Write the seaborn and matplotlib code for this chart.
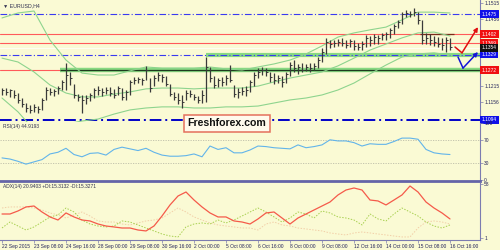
import numpy as np
import pandas as pd
import matplotlib
matplotlib.use("Agg")
import matplotlib.pyplot as plt
import matplotlib.transforms as mtransforms
from matplotlib.patches import FancyBboxPatch
import seaborn as sns

# ---------------- data ----------------
symbol_title = "EURUSD,H4"
rsi_title = "RSI(14) 44.9193"
adx_title = "ADX(14) 20.9403 +DI:15.3132 -DI:15.3271"
watermark = "Freshforex.com"

date_labels = ["22 Sep 2015", "23 Sep 08:00", "24 Sep 16:00", "28 Sep 00:00", "29 Sep 08:00",
               "30 Sep 16:00", "2 Oct 00:00", "5 Oct 08:00", "6 Oct 16:00", "8 Oct 00:00",
               "9 Oct 08:00", "12 Oct 16:00", "14 Oct 00:00", "15 Oct 08:00", "16 Oct 16:00"]

highs = [1.1208, 1.1208, 1.1205, 1.1201, 1.1190, 1.1172, 1.1154, 1.1147, 1.1150, 1.1143,
         1.1172, 1.1212, 1.1208, 1.1205, 1.1215, 1.1237, 1.1298, 1.1266, 1.1223, 1.1186,
         1.1183, 1.1183, 1.1190, 1.1208, 1.1215, 1.1208, 1.1212, 1.1212, 1.1205, 1.1215,
         1.1208, 1.1201, 1.1237, 1.1248, 1.1248, 1.1244, 1.1288, 1.1244, 1.1255, 1.1266,
         1.1259, 1.1251, 1.1223, 1.1194, 1.1190, 1.1183, 1.1201, 1.1201, 1.1186, 1.1179,
         1.1201, 1.1320, 1.1284, 1.1251, 1.1244, 1.1248, 1.1255, 1.1291, 1.1219, 1.1208,
         1.1212, 1.1215, 1.1237, 1.1266, 1.1280, 1.1284, 1.1280, 1.1266, 1.1262, 1.1255,
         1.1251, 1.1266, 1.1302, 1.1309, 1.1295, 1.1298, 1.1295, 1.1298, 1.1298, 1.1320,
         1.1353, 1.1389, 1.1381, 1.1381, 1.1385, 1.1389, 1.1381, 1.1385, 1.1381, 1.1371,
         1.1378, 1.1399, 1.1396, 1.1403, 1.1399, 1.1407, 1.1410, 1.1425, 1.1439, 1.1454,
         1.1482, 1.1490, 1.1486, 1.1497, 1.1482, 1.1454, 1.1407, 1.1403, 1.1396, 1.1392,
         1.1389, 1.1392, 1.1389]
lows = [1.1183, 1.1183, 1.1176, 1.1172, 1.1154, 1.1140, 1.1122, 1.1118, 1.1122, 1.1118,
        1.1129, 1.1165, 1.1183, 1.1179, 1.1186, 1.1201, 1.1201, 1.1219, 1.1172, 1.1161,
        1.1118, 1.1150, 1.1161, 1.1172, 1.1183, 1.1179, 1.1186, 1.1179, 1.1172, 1.1183,
        1.1165, 1.1165, 1.1183, 1.1223, 1.1226, 1.1219, 1.1237, 1.1194, 1.1215, 1.1233,
        1.1230, 1.1215, 1.1179, 1.1165, 1.1150, 1.1136, 1.1165, 1.1176, 1.1165, 1.1154,
        1.1154, 1.1158, 1.1230, 1.1208, 1.1212, 1.1215, 1.1219, 1.1230, 1.1176, 1.1172,
        1.1183, 1.1179, 1.1194, 1.1215, 1.1244, 1.1255, 1.1251, 1.1230, 1.1223, 1.1226,
        1.1212, 1.1226, 1.1251, 1.1266, 1.1259, 1.1266, 1.1270, 1.1266, 1.1273, 1.1280,
        1.1302, 1.1331, 1.1353, 1.1356, 1.1360, 1.1360, 1.1353, 1.1356, 1.1345, 1.1345,
        1.1345, 1.1356, 1.1360, 1.1367, 1.1367, 1.1381, 1.1381, 1.1389, 1.1403, 1.1425,
        1.1439, 1.1464, 1.1464, 1.1468, 1.1439, 1.1367, 1.1367, 1.1363, 1.1360, 1.1356,
        1.1345, 1.1338, 1.1345]
closes = [1.1201, 1.1194, 1.1201, 1.1183, 1.1165, 1.1150, 1.1136, 1.1129, 1.1140, 1.1132,
          1.1165, 1.1201, 1.1194, 1.1197, 1.1208, 1.1230, 1.1255, 1.1244, 1.1183, 1.1176,
          1.1165, 1.1172, 1.1183, 1.1201, 1.1201, 1.1194, 1.1201, 1.1190, 1.1183, 1.1208,
          1.1176, 1.1194, 1.1230, 1.1237, 1.1241, 1.1237, 1.1273, 1.1208, 1.1244, 1.1255,
          1.1248, 1.1223, 1.1186, 1.1176, 1.1165, 1.1158, 1.1190, 1.1186, 1.1176, 1.1165,
          1.1183, 1.1284, 1.1244, 1.1219, 1.1237, 1.1230, 1.1244, 1.1237, 1.1186, 1.1194,
          1.1197, 1.1201, 1.1230, 1.1255, 1.1266, 1.1273, 1.1266, 1.1248, 1.1237, 1.1244,
          1.1230, 1.1259, 1.1291, 1.1280, 1.1284, 1.1273, 1.1284, 1.1280, 1.1288, 1.1309,
          1.1338, 1.1374, 1.1367, 1.1371, 1.1374, 1.1371, 1.1363, 1.1378, 1.1360, 1.1356,
          1.1367, 1.1389, 1.1381, 1.1392, 1.1389, 1.1399, 1.1403, 1.1418, 1.1432, 1.1446,
          1.1475, 1.1479, 1.1475, 1.1482, 1.1454, 1.1381, 1.1389, 1.1381, 1.1374, 1.1367,
          1.1363, 1.1381, 1.1356]

# Bollinger bands (one reading every 4 bars)
bb_upper = [1.1461, 1.1479, 1.1486, 1.1381, 1.1309, 1.1262, 1.1255, 1.1255, 1.1270, 1.1284,
            1.1280, 1.1280, 1.1280, 1.1284, 1.1277, 1.1273, 1.1284, 1.1295, 1.1309, 1.1331,
            1.1360, 1.1392, 1.1407, 1.1418, 1.1428, 1.1454, 1.1482, 1.1482, 1.1479]
bb_middle = [1.1316, 1.1302, 1.1266, 1.1219, 1.1190, 1.1176, 1.1176, 1.1186, 1.1194, 1.1205,
             1.1208, 1.1208, 1.1205, 1.1208, 1.1208, 1.1208, 1.1215, 1.1230, 1.1244, 1.1255,
             1.1266, 1.1288, 1.1316, 1.1345, 1.1367, 1.1389, 1.1407, 1.1410, 1.1396]
bb_lower = [1.1172, 1.1122, 1.1057, 1.1064, 1.1078, 1.1089, 1.1096, 1.1114, 1.1129, 1.1136,
            1.1140, 1.1140, 1.1136, 1.1136, 1.1140, 1.1140, 1.1143, 1.1154, 1.1165, 1.1172,
            1.1183, 1.1201, 1.1226, 1.1259, 1.1291, 1.1320, 1.1331, 1.1335, 1.1327]

# RSI(14), one reading every 2 bars
rsi_values = [39, 37, 33, 28, 32, 36, 46, 49, 56, 45, 41, 47, 48, 44, 54, 58, 55, 52, 56, 49,
              44, 42, 42, 43, 46, 41, 60, 54, 57, 48, 48, 53, 60, 59, 57, 56, 55, 62, 57, 59,
              62, 71, 69, 69, 66, 60, 64, 63, 63, 68, 74, 74, 72, 54, 48, 46, 45]

# ADX(14), +DI, -DI, one reading every 2 bars
adx_values = [26.2, 26.2, 29.4, 33.6, 34.6, 28.3, 23.1, 19.9, 27.3, 23.1, 19.9, 18.9, 15.7, 13.6,
              12.6, 11.5, 11.5, 9.4, 8.4, 13.6, 24.1, 35.7, 45.1, 49.3, 40.9, 33.6, 27.3, 23.1,
              23.1, 18.9, 17.8, 15.7, 21.0, 27.3, 28.3, 22.0, 15.7, 22.0, 26.2, 30.4, 34.6, 38.8,
              46.2, 51.4, 53.5, 51.4, 40.9, 39.9, 35.7, 40.9, 46.2, 55.6, 49.3, 38.8, 32.5, 27.3, 21.0]
plus_di = [11.5, 17.8, 13.6, 9.4, 12.6, 17.8, 23.1, 25.2, 32.5, 28.3, 19.9, 15.7, 13.6, 12.6,
           13.6, 18.9, 17.8, 14.7, 11.5, 8.4, 5.2, 3.1, 2.1, 12.6, 15.7, 16.8, 15.7, 19.9,
           16.8, 19.9, 24.1, 28.3, 32.5, 28.3, 23.1, 17.8, 22.0, 28.3, 26.2, 22.0, 29.4, 27.3,
           23.1, 22.0, 19.9, 14.7, 26.2, 21.0, 18.9, 26.2, 32.5, 28.3, 24.1, 17.8, 13.6, 11.5, 14.7]
minus_di = [32.5, 33.6, 33.6, 33.6, 32.5, 30.4, 27.3, 25.2, 22.0, 25.2, 28.3, 24.1, 18.9, 17.8,
            17.8, 15.7, 14.7, 16.8, 18.9, 19.9, 22.0, 27.3, 32.5, 28.3, 23.1, 19.9, 16.8, 14.7,
            13.6, 12.6, 11.5, 11.5, 9.4, 15.7, 17.8, 14.7, 13.6, 11.5, 10.5, 9.4, 8.4, 6.3,
            5.2, 4.2, 6.3, 7.3, 6.3, 5.2, 4.2, 3.1, 2.1, 2.1, 11.5, 17.8, 18.9, 17.8, 15.7]

# horizontal levels and their right-hand price tags
red_levels = [1.1402, 1.1369, 1.1272]
red_labels = ["1.1402", "1.1369", "1.1272"]
blue_levels = [1.1475, 1.1329]
blue_labels = ["1.1475", "1.1329"]
bottom_level = 1.1094
bottom_label = "1.1094"
bid_level = 1.1354
bid_label = "1.1354"
price_ticks = [1.1515, 1.1456, 1.1215, 1.1156]
price_tick_labels = ["1.1515", "1.1456", "1.1215", "1.1156"]
rsi_ticks = [100, 70, 30, 0]
adx_ticks = [58, 1]

# ---------------- style ----------------
BG = "#FAFAD4"
BAR = "#3A3A3A"
AXC = "#7C7CB0"
TXT = "#23235A"
BB = "#8ED48E"
FS = 3.5

sns.set_theme(style="white")
plt.rcParams["font.family"] = ["Liberation Sans", "DejaVu Sans"]

fig = plt.figure(figsize=(5, 2.5), dpi=100, facecolor=BG)
ax_main = fig.add_axes([0, 0.512, 0.96, 0.488], facecolor=BG)
ax_rsi = fig.add_axes([0, 0.276, 0.96, 0.232], facecolor=BG)
ax_adx = fig.add_axes([0, 0.040, 0.96, 0.228], facecolor=BG)

n = len(closes)
bar_idx = np.arange(n)
band_idx = bar_idx[::4]
ind_idx = bar_idx[::2]
XLIM = (-0.5, 119.5)

for ax in (ax_main, ax_rsi, ax_adx):
    ax.set_xlim(*XLIM)
    for s in ("top", "left", "bottom"):
        ax.spines[s].set_visible(False)
    ax.spines["right"].set_color(AXC)
    ax.spines["right"].set_linewidth(0.8)
    ax.yaxis.tick_right()
    ax.tick_params(axis="y", right=True, left=False, labelright=True, labelleft=False,
                   length=2, width=0.5, color=AXC, labelsize=FS, labelcolor=TXT, pad=1)
    ax.grid(False)

# ---------------- main price panel ----------------
ax_main.set_ylim(1.10854, 1.15258)
ax_main.set_xticks([])

for lv in red_levels:
    ax_main.axhline(lv, color="#FF5A5A", lw=0.8, zorder=1)
ax_main.axhline(bid_level, color="white", lw=0.8, alpha=0.7, zorder=1)
ax_main.hlines(red_levels[2], 14.5, XLIM[1], color="#74D474", lw=3.2, alpha=0.85, zorder=1.5)
ax_main.hlines(red_levels[2], 14.5, XLIM[1], color="#1F3A1F", lw=0.9, zorder=1.6)
ax_main.hlines(blue_levels[1], 51, XLIM[1], color="#74D474", lw=3.0, alpha=0.85, zorder=1.5)
ax_main.hlines(red_levels[0], 104.5, 113, color="#7A2A1A", lw=0.9, zorder=1.6)
for lv in blue_levels:
    ax_main.axhline(lv, color="#3A3AF0", lw=0.8, ls=(0, (6, 2, 1, 2)), zorder=1.7)
ax_main.axhline(bottom_level, color="#0000C8", lw=1.4, ls=(0, (6, 2, 1, 2)), zorder=1.7)

for series in (bb_upper, bb_middle, bb_lower):
    sns.lineplot(x=band_idx, y=series, ax=ax_main, color=BB, lw=0.8, legend=False, zorder=2)

ax_main.vlines(bar_idx, lows, highs, color=BAR, lw=0.9, zorder=3)
ax_main.hlines(closes, bar_idx, bar_idx + 0.5, color=BAR, lw=0.7, zorder=3)

ax_main.set_yticks(price_ticks)
ax_main.set_yticklabels(price_tick_labels)

tr = mtransforms.blended_transform_factory(ax_main.transAxes, ax_main.transData)
def tag(price, text, fc):
    ax_main.text(1.004, price, text, transform=tr, ha="left", va="center", fontsize=FS,
                 color="white", clip_on=False, zorder=10,
                 bbox=dict(boxstyle="square,pad=0.3", fc=fc, ec="none"))
for lv, lb in zip(red_levels, red_labels):
    tag(lv, lb, "#F01010")
for lv, lb in zip(blue_levels, blue_labels):
    tag(lv, lb, "#1010E8")
tag(bid_level, bid_label, "#101010")
tag(bottom_level, bottom_label, "#1010E8")

ax_main.text(0.006, 0.975, "\u25BC " + symbol_title, transform=ax_main.transAxes,
             fontsize=FS + 0.3, color="#303050", ha="left", va="top")

ax_main.plot([113.25, 115.0], [1.1356, 1.1335], color="#E01010", lw=1.1, clip_on=False, zorder=9)
ax_main.annotate("", xy=(119.0, 1.1428), xytext=(115.0, 1.1335), annotation_clip=False,
                 arrowprops=dict(arrowstyle="-|>", color="#E01010", lw=1.1, mutation_scale=6,
                                 shrinkA=0, shrinkB=0), zorder=9)
ax_main.plot([114.0, 115.25], [1.1320, 1.1280], color="#1414D8", lw=1.1, clip_on=False, zorder=9)
ax_main.annotate("", xy=(119.0, 1.1338), xytext=(115.25, 1.1280), annotation_clip=False,
                 arrowprops=dict(arrowstyle="-|>", color="#1414D8", lw=1.1, mutation_scale=6,
                                 shrinkA=0, shrinkB=0), zorder=9)

# ---------------- RSI panel ----------------
ax_rsi.set_ylim(-1.8, 100.7)
ax_rsi.set_xticks([])
for lv in (30, 70):
    ax_rsi.axhline(lv, color="#BDBDA8", lw=0.6, ls=(0, (1.5, 1.5)))
sns.lineplot(x=ind_idx, y=rsi_values, ax=ax_rsi, color="#62B4EA", lw=0.8, legend=False)
ax_rsi.set_yticks(rsi_ticks)
ax_rsi.set_yticklabels([str(t) for t in rsi_ticks])
ax_rsi.spines["bottom"].set_visible(True)
ax_rsi.spines["bottom"].set_color("#6464A8")
ax_rsi.spines["bottom"].set_linewidth(2.0)
ax_rsi.text(0.006, 0.985, rsi_title, transform=ax_rsi.transAxes, fontsize=FS,
            color="#303050", ha="left", va="top")

# ---------------- ADX panel ----------------
ax_adx.set_ylim(-1.1, 58.75)
sns.lineplot(x=ind_idx, y=minus_di, ax=ax_adx, color="#F2CFA8", lw=0.7, ls=(0, (1.5, 1.5)),
             legend=False)
sns.lineplot(x=ind_idx, y=plus_di, ax=ax_adx, color="#A8D050", lw=0.7, ls=(0, (1.5, 1.5)),
             legend=False)
sns.lineplot(x=ind_idx, y=adx_values, ax=ax_adx, color="#F55A4A", lw=0.9, legend=False)
ax_adx.set_yticks(adx_ticks)
ax_adx.set_yticklabels([str(t) for t in adx_ticks])
ax_adx.spines["bottom"].set_visible(True)
ax_adx.spines["bottom"].set_color(AXC)
ax_adx.spines["bottom"].set_linewidth(0.8)
ax_adx.set_xticks(bar_idx[::8])
ax_adx.set_xticklabels(date_labels, ha="left")
ax_adx.tick_params(axis="x", bottom=True, length=2, width=0.5, color=AXC,
                   labelsize=FS, labelcolor=TXT, pad=0.8)
ax_adx.text(0.006, 0.985, adx_title, transform=ax_adx.transAxes, fontsize=FS,
            color="#303050", ha="left", va="top")
for ax in (ax_main, ax_rsi, ax_adx):
    ax.set_xlabel("")
    ax.set_ylabel("")

# ---------------- watermark ----------------
box = FancyBboxPatch((0.368, 0.474), 0.172, 0.068, boxstyle="square,pad=0",
                     transform=fig.transFigure, fc="#FFFAEC", ec="#E4705C", lw=1.1, zorder=20)
fig.patches.append(box)
fig.text(0.454, 0.508, watermark, ha="center", va="center", fontsize=7.6, fontweight="bold",
         color="#111111", zorder=21)

fig.savefig("out.png", dpi=100, facecolor=BG)
